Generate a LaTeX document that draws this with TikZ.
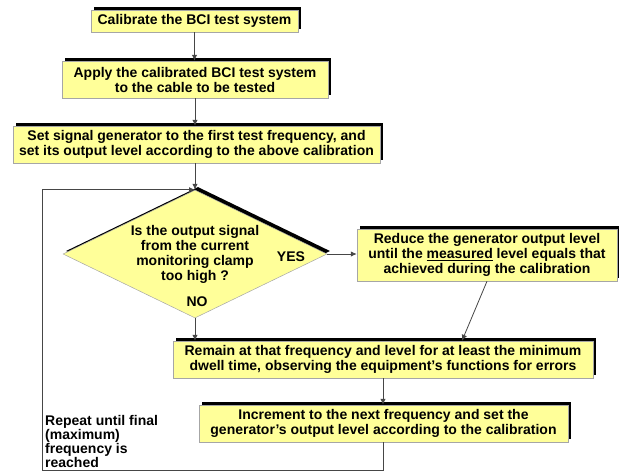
\documentclass[tikz,border=0pt]{standalone}
\usepackage{fontspec}
\setmainfont{Liberation Sans}
\usetikzlibrary{shapes.geometric,shadows,calc,arrows.meta}
\definecolor{jaune}{RGB}{255,255,153}
\definecolor{trait}{RGB}{70,70,70}
\tikzset{
	stepbox/.style={draw=gray!70, line width=.5pt, fill=jaune, align=center, inner sep=0pt,
		font=\bfseries\fontsize{14}{15}\selectfont,
		general shadow={fill=black, shadow xshift=3pt, shadow yshift=3pt}},
	decisionbox/.style={stepbox, shape=diamond, aspect=2.06},
	plain/.style={inner sep=0pt, font=\bfseries\fontsize{14}{15}\selectfont},
	conn/.style={draw=trait, line width=.8pt, -{Latex[length=6pt,width=5.5pt]}}
}
\begin{document}
\begin{tikzpicture}[x=1pt,y=-1pt]
		\useasboundingbox (0,0) rectangle (619,472);

		\node[stepbox, minimum width=207pt, minimum height=22pt] (calib) at (194.5,21) {Calibrate the BCI test system};
		\node[stepbox, minimum width=266pt, minimum height=37pt] (apply) at (195,79.5) {Apply the calibrated BCI test system\\to the cable to be tested};
		\node[stepbox, minimum width=367pt, minimum height=37pt] (setgen) at (196.5,144.5) {Set signal generator to the first test frequency, and\\set its output level according to the above calibration};

		\node[decisionbox, minimum width=264pt, minimum height=128pt] (test) at (195,254) {Is the output signal\\from the current\\monitoring clamp\\too high ?};
		\node[plain] (yes) at (291,257) {YES};
		\node[plain] (no) at (197,302) {NO};

		\node[stepbox, minimum width=260pt, minimum height=52pt] (reduce) at (487,255) {Reduce the generator output level\\until the \underline{measured} level equals that\\achieved during the calibration};
		\node[stepbox, minimum width=420pt, minimum height=37pt] (remain) at (383,359.5) {Remain at that frequency and level for at least the minimum\\dwell time, observing the equipment's functions for errors};
		\node[stepbox, minimum width=369pt, minimum height=37pt] (incr) at (383.5,423.5) {Increment to the next frequency and set the\\generator's output level according to the calibration};

		\node[plain, align=left, anchor=base west, font=\bfseries\fontsize{14}{13.7}\selectfont] (repeat) at (45,467) {Repeat until final\\(maximum)\\frequency is\\reached};
		\coordinate (corner) at (42,470);

		\draw[conn] (calib.south) -- (calib.south |- apply.north);
		\draw[conn] (apply.south) -- (apply.south |- setgen.north);
		\draw[conn] (test.north |- setgen.south) -- (test.north);
		\draw[conn] (test.east) -- (test.east -| reduce.west);
		\draw[conn] (test.south) -- (test.south |- remain.north);
		\draw[conn] (reduce.south) -- ($(reduce.south |- remain.north)+(-25,0)$);
		\draw[conn] (remain.south) -- (remain.south |- incr.north);
		\draw[conn] (incr.south) |- (corner) |- (test.north);
	\end{tikzpicture}
\end{document}
